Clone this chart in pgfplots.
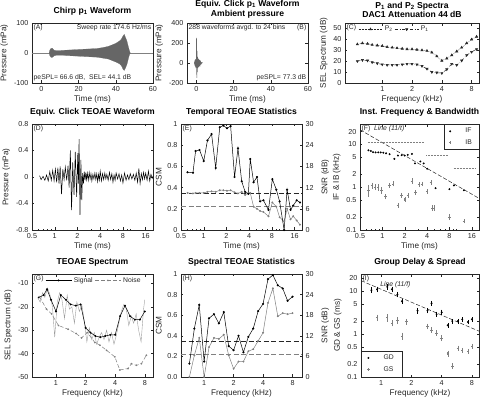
\documentclass[border=0pt]{standalone}
\usepackage{fontspec}
\setmainfont{Liberation Sans}
\usepackage{pgfplots}
\pgfplotsset{compat=1.18}
\usetikzlibrary{plotmarks}
\definecolor{ax}{gray}{0.15}
\definecolor{gr}{gray}{0.5}
\definecolor{lg}{gray}{0.62}
\definecolor{dk}{gray}{0.4}
\newcommand{\tf}{\fontsize{7.2}{8.4}\selectfont}
\newcommand{\smf}{\fontsize{6.8}{8}\selectfont}
\tikzset{tag/.style={anchor=north west, font=\smf, text=ax, inner sep=1.5pt}}
\pgfplotsset{
  myax/.style={scale only axis, anchor=south west,
    axis line style={ax, line width=0.4pt},
    every tick/.style={ax, line width=0.4pt},
    major tick length=2.5pt, minor tick length=1.4pt,
    tick label style={font=\tf, text=ax},
    label style={font=\fontsize{8.2}{9.5}\selectfont, text=ax},
    title style={font=\fontsize{8.6}{9.6}\selectfont\bfseries, align=center, yshift=-1.5pt},
    /pgf/number format/assume math mode=true,
    xlabel style={yshift=3pt}, ylabel style={yshift=-1pt},
    legend style={font=\smf, text=ax},
    every axis plot/.append style={line width=0.5pt}},
}
\begin{document}
\begin{tikzpicture}[font=\tf]
\useasboundingbox (0pt,0pt) rectangle (480pt,402pt);

% ---------------- (A)
\begin{axis}[myax, at={(32pt,319pt)}, width=121pt, height=60pt,
  xmin=-5, xmax=60, ymin=-100, ymax=100, xtick={0,20,40,60}, ytick={-100,0,100},
  xlabel={Time (ms)}, ylabel={Pressure (mPa)}, title={Chirp p\textsubscript{1} Waveform}]
\addplot[gr, line width=0.4pt] coordinates {(-5,0)(60,0)};
\addplot[fill=dk, draw=dk, line width=0.2pt] coordinates {
(4.2,0)(4.6,10)(5.2,15)(5.8,16)(6.4,12)(7,9)(8,8)(10,8)(12,9)(15,10)(18,11)(21,12)(24,13)(27,14)(30,15)(33,18)(36,22)(38,27)(40,32)(42,40)(43,46)(44,58)(44.6,62)(45.2,52)(46,40)(46.8,20)(47.4,6)(47.8,0)
(47.4,-5)(46.8,-18)(46,-38)(45.2,-50)(44.6,-58)(44,-55)(43,-42)(42,-36)(40,-30)(38,-25)(36,-20)(33,-17)(30,-14)(27,-13)(24,-12)(21,-11)(18,-10)(15,-9)(12,-8)(10,-8)(8,-8)(7,-9)(6.4,-12)(5.8,-15)(5.2,-14)(4.6,-9)} -- cycle;
\node[tag] at (rel axis cs:0,1) {(A)};
\node[tag, anchor=north east] at (rel axis cs:1,1) {Sweep rate 174.6 Hz/ms};
\node[tag, anchor=south west] at (rel axis cs:0,0) {peSPL= 66.6 dB,\ \ SEL= 44.1 dB};
\end{axis}

% ---------------- (B)
\begin{axis}[myax, at={(187pt,319pt)}, width=121pt, height=60pt,
  xmin=-5, xmax=60, ymin=-200, ymax=400, xtick={0,20,40,60}, ytick={-200,0,200,400},
  xlabel={Time (ms)}, ylabel={Pressure (mPa)},
  title style={yshift=-3pt},
  title={Equiv. Click p\textsubscript{1} Waveform\\Ambient pressure}]
\addplot[dk, line width=0.5pt] coordinates {(-0.8,0)(-0.4,20)(-0.2,-40)(0,-30)(0.1,250)(0.25,-150)(0.4,120)(0.55,-90)(0.7,60)(0.85,-50)(1.0,45)(1.2,-40)(1.4,35)(1.6,-30)(1.8,25)(2.0,-20)(2.3,15)(2.6,-10)(3,5)(3.5,0)};
\addplot[fill=dk, draw=none] coordinates {(-1.2,0)(-0.8,30)(0,45)(1,40)(2,25)(2.8,0)(2,-25)(1,-40)(0,-45)(-0.8,-30)} -- cycle;
\node[tag] at (rel axis cs:0,1) {288 waveforms avgd. to 24 bins};
\node[tag, anchor=north east] at (rel axis cs:1,1) {(B)};
\node[tag, anchor=south east] at (rel axis cs:1,0) {peSPL= 77.3 dB};
\end{axis}

% ---------------- (C)
\begin{axis}[myax, at={(345pt,319pt)}, width=134pt, height=60pt,
  xmode=log, xtick={1,2,4,8}, xticklabels={1,2,4,8}, xlabel={Frequency (kHz)},
  xmin=0.42, xmax=9.5, ymin=0, ymax=55, ytick={0,10,20,30,40,50},
  ylabel={SEL Spectrum (dB)},
  title style={yshift=-3pt},
  title={P\textsubscript{1} and P\textsubscript{2} Spectra\\DAC1 Attenuation 44 dB},
  legend columns=-1,
  legend style={draw=none, fill=none, at={(0.09,1)}, anchor=north west, inner sep=1pt},
  legend image code/.code={\draw[mark repeat=2,mark phase=2,#1] plot coordinates {(0pt,0pt)(12pt,0pt)(24pt,0pt)};}]
\addplot[ax, densely dotted, mark=triangle*, mark size=1.3pt, mark options={solid}] coordinates {
(0.56,35.5)(0.63,36.5)(0.71,36)(0.79,35)(0.89,34.5)(1.0,34)(1.12,33)(1.26,32.5)(1.41,32)(1.59,31.5)(1.78,31)(2.0,31)(2.24,30.5)(2.52,30)(2.83,29.5)(3.17,28)(3.56,24.5)(4.0,20.5)(4.49,22.5)(5.04,25.5)(5.66,29)(6.35,32.5)(7.13,36.5)(8.0,40)(8.98,42.5)};
\addlegendentry{P\textsubscript{2}}
\addplot[ax, dash dot, mark=triangle*, mark size=1.3pt, mark options={solid, rotate=180}] coordinates {
(0.56,20)(0.63,21)(0.71,20.5)(0.79,19)(0.89,18)(1.0,17)(1.12,16.5)(1.26,16.5)(1.41,16.5)(1.59,17)(1.78,17.5)(2.0,17.5)(2.24,17)(2.52,15.5)(2.83,13)(3.17,10)(3.56,9.5)(4.0,9)(4.49,12.5)(5.04,17.5)(5.66,16.5)(6.35,20.5)(7.13,25.5)(8.0,28.5)(8.98,31)};
\addlegendentry{P\textsubscript{1}}
\node[tag] at (rel axis cs:0,1) {(C)};
\end{axis}

% ---------------- (D)
\begin{axis}[myax, at={(32pt,172pt)}, width=121pt, height=106pt,
  xmode=log, xmin=0.5, xmax=20,
  xtick={0.5,1,2,4,8,16}, xticklabels={0.5,1,2,4,8,16},
  minor xtick={0.6,0.7,0.8,0.9,3,5,6,7,9,10,20}, xlabel={Time (ms)},
  ymin=-0.8, ymax=0.8, ytick={-0.8,-0.4,0,0.4,0.8}, yticklabels={-0.8,-0.4,0,0.4,0.8},
  ylabel={Pressure (mPa)}, title={Equiv. Click TEOAE Waveform}]
\addplot[black] coordinates {
(0.63,0.02)(0.66,-0.04)(0.70,0.01)(0.74,-0.05)(0.78,0.03)(0.82,-0.06)(0.86,0.08)(0.90,-0.05)(0.94,0.10)(0.98,-0.06)(1.02,0.12)(1.06,-0.08)(1.10,0.14)(1.14,-0.1)(1.18,0.16)(1.23,-0.26)(1.28,0.12)(1.33,-0.04)(1.38,0.15)(1.44,-0.05)(1.50,0.17)(1.55,-0.16)(1.61,0.40)(1.67,-0.50)(1.73,0.22)(1.80,-0.27)(1.87,0.38)(1.95,-0.30)(2.02,0.36)(2.06,-0.1)(2.10,0.57)(2.16,-0.57)(2.22,0.26)(2.28,-0.35)(2.34,0.06)(2.40,-0.10)(2.46,0.08)(2.52,-0.05)(2.58,0.07)(2.64,-0.04)(2.70,0.06)(2.78,-0.05)(2.86,0.07)(2.94,-0.03)(3.02,0.05)(3.10,-0.06)(3.2,0.04)(3.3,-0.03)(3.4,0.06)(3.5,-0.04)(3.6,0.05)(3.7,-0.07)(3.8,0.04)(3.9,-0.05)(4.0,0.09)(4.15,-0.06)(4.3,0.05)(4.45,-0.04)(4.6,0.06)(4.75,-0.03)(4.9,0.04)(5.1,-0.05)(5.3,0.07)(5.5,-0.04)(5.7,0.05)(5.9,-0.08)(6.1,0.03)(6.3,-0.05)(6.5,0.06)(6.8,-0.03)(7.1,0.05)(7.4,-0.06)(7.7,0.03)(8.0,-0.09)(8.4,0.06)(8.8,-0.05)(9.2,0.03)(9.6,-0.04)(10.0,0.05)(10.5,-0.03)(11.0,0.04)(11.5,-0.05)(12.0,0.06)(12.5,-0.08)(13.0,0.13)(13.5,-0.10)(14.0,0.05)(14.5,-0.04)(15.0,0.07)(15.5,-0.03)(16.0,0.06)(16.7,-0.05)(17.4,0.09)(18.1,-0.06)(18.8,0.04)(19.5,-0.02)(20,0.01)};
\node[tag] at (rel axis cs:0,1) {(D)};
\end{axis}

% ---------------- (E)
\begin{axis}[myax, at={(181pt,172pt)}, width=121pt, height=106pt,
  xmode=log, xmin=0.5, xmax=20,
  xtick={0.5,1,2,4,8,16}, xticklabels={0.5,1,2,4,8,16},
  minor xtick={0.6,0.7,0.8,0.9,3,5,6,7,9,10,20}, xlabel={Time (ms)},
  ymin=0, ymax=1, ytick={0,0.2,0.4,0.6,0.8,1}, yticklabels={0,0.2,0.4,0.6,0.8,1},
  ytick pos=left, ylabel={CSM}, title={Temporal TEOAE Statistics}]
\addplot[ax, dash pattern=on 5pt off 2.5pt] coordinates {(0.5,0.35)(20,0.35)};
\addplot[gr, dash pattern=on 5pt off 2.5pt] coordinates {(0.5,0.22)(20,0.22)};
\addplot[gr, mark=*, mark size=0.7pt] coordinates {
(0.61,0.35)(0.72,0.345)(0.78,0.35)(0.88,0.35)(1.0,0.35)(1.12,0.36)(1.27,0.365)(1.44,0.36)(1.63,0.375)(1.82,0.375)(2.03,0.37)(2.27,0.375)(2.56,0.355)(2.84,0.345)(3.18,0.36)(3.53,0.33)(3.9,0.35)(4.13,0.35)(4.57,0.22)(5.07,0.2)(5.57,0.18)(6.17,0.17)(7.2,0.13)(8.1,0.26)(9.15,0.22)(10.1,0.12)(11.6,0.08)(12.7,0.2)(14.1,0.1)(15.3,0.13)(17.0,0.09)(18.8,0.05)};
\addplot[black, mark=*, mark size=0.8pt] coordinates {
(0.61,0.545)(0.72,0.54)(0.78,0.745)(0.88,0.755)(1.0,0.65)(1.12,0.845)(1.27,0.905)(1.44,0.585)(1.63,0.97)(1.82,0.985)(2.03,0.96)(2.27,0.98)(2.56,0.5)(2.84,0.77)(3.18,0.46)(3.53,0.36)(3.9,0.34)(4.13,0.67)(4.57,0.45)(5.07,0.5)(5.57,0.27)(6.17,0.28)(7.2,0.19)(8.1,0.48)(9.15,0.38)(10.1,0.27)(11.6,0.0)(12.7,0.38)(14.1,0.19)(15.3,0.23)(17.0,0.28)(18.8,0.26)};
\node[tag] at (rel axis cs:0,1) {(E)};
\end{axis}
\begin{axis}[myax, at={(181pt,172pt)}, width=121pt, height=106pt,
  xmode=log, xmin=0.5, xmax=20, ymin=0, ymax=30, axis x line=none, axis y line*=right,
  ytick={0,6,12,18,24,30}, ylabel={SNR (dB)}]
\addplot[draw=none] coordinates {(1,0)};
\end{axis}

% ---------------- (F)
\begin{axis}[myax, at={(360pt,172pt)}, width=119pt, height=106pt,
  xmode=log, xmin=0.5, xmax=20,
  xtick={0.5,1,2,4,8,16}, xticklabels={0.5,1,2,4,8,16},
  minor xtick={0.6,0.7,0.8,0.9,3,5,6,7,9,10,20}, xlabel={Time (ms)},
  ymode=log, ymin=0.1, ymax=30, ytick={0.1,0.2,0.5,1,2,5,10,20}, yticklabels={0.1,0.2,0.5,1,2,5,10,20},
  ylabel={IF \& IB (kHz)}, title={Inst. Frequency \& Bandwidth},
  legend style={at={(1,1)}, anchor=north east, draw=ax, line width=0.4pt, inner xsep=5pt, inner ysep=2pt,
    /tikz/every odd column/.append style={column sep=12pt}, row sep=1pt},
  legend cell align=left]
\addplot[ax, dash pattern=on 4pt off 2pt, forget plot] coordinates {(0.5,22)(20,0.55)};
\addplot[gr, densely dotted, forget plot] coordinates {(0.64,11)(3.7,11)};
\addplot[gr, densely dotted, forget plot] coordinates {(3.9,5.5)(7.5,5.5)};
\addplot[gr, densely dotted, forget plot] coordinates {(9.1,2.75)(17.5,2.75)};
\addplot[black, only marks, mark=*, mark size=0.7pt] coordinates {
(0.65,7.3)(0.70,7.0)(0.75,6.6)(0.81,6.5)(0.88,6.5)(0.95,6.5)(1.03,6.4)(1.12,6.2)(1.25,5.9)(1.45,4.6)(1.62,5.5)(1.82,5.6)(2.0,5.5)(2.2,5.7)(2.5,6.0)(2.75,3.6)(3.25,4.0)(3.6,3.6)(4.0,2.7)(5.2,0.95)(8.0,0.9)(9.2,1.1)(12.5,0.85)};
\addlegendentry{IF}
\addplot[gr, only marks, mark=+, mark size=1.2pt,
  error bars/.cd, y dir=both, y explicit, error bar style={gr, line width=0.4pt}, error mark options={gr, mark size=1pt, line width=0.4pt}] coordinates {
(0.65,0.85) +- (0,0.22) (0.72,1.1) +- (0,0.12) (0.80,1.0) +- (0,0.1) (0.88,1.0) +- (0,0.12) (0.97,0.85) +- (0,0.1) (1.1,0.6) +- (0,0.05) (1.25,1.1) +- (0,0.08) (1.4,1.2) +- (0,0.1) (1.62,0.38) +- (0,0.03) (1.82,0.65) +- (0,0.05) (2.0,0.52) +- (0,0.04) (2.2,0.65) +- (0,0.05) (2.5,1.4) +- (0,0.12) (2.8,0.75) +- (0,0.06) (3.1,1.15) +- (0,0.08) (3.4,1.2) +- (0,0.08) (4.0,0.8) +- (0,0.06) (4.5,1.3) +- (0,0.08) (4.7,0.33) +- (0,0.03) (5.0,0.33) +- (0,0.03) (8.0,0.2) +- (0,0.02) (12.5,0.16) +- (0,0.01)};
\addlegendentry{IB}
\node[tag] at (rel axis cs:0,1) {(F)\ \ \textit{Line (11/t)}};
\end{axis}

% ---------------- (G)
\begin{axis}[myax, at={(32pt,25pt)}, width=121pt, height=103pt,
  xmode=log, xtick={1,2,4,8}, xticklabels={1,2,4,8}, xlabel={Frequency (kHz)},
  xmin=0.57, xmax=9.7, ymin=-50, ymax=-6, ytick={-50,-40,-30,-20,-10},
  ylabel={SEL Spectrum (dB)}, title={TEOAE Spectrum},
  legend columns=-1,
  legend style={draw=none, fill=none, at={(0.1,1)}, anchor=north west, inner sep=1pt},
  legend image code/.code={\draw[mark repeat=2,mark phase=2,#1] plot coordinates {(0pt,0pt)(13pt,0pt)(26pt,0pt)};}]
\addplot[lg, line width=0.4pt, forget plot] coordinates {
(0.65,-16)(0.69,-18)(0.73,-14)(0.77,-16)(0.82,-12)(0.87,-15)(0.92,-20)(0.97,-33)(1.03,-18)(1.09,-14)(1.15,-17)(1.22,-25)(1.30,-15)(1.37,-21)(1.45,-20)(1.54,-27)(1.63,-18)(1.73,-22)(1.83,-19)(1.94,-26)(2.06,-35)(2.18,-29)(2.31,-34)(2.45,-31)(2.59,-36)(2.75,-33)(2.91,-31)(3.08,-34)(3.27,-30)(3.46,-35)(3.67,-31)(3.89,-36)(4.12,-32)(4.36,-27)(4.62,-22)(4.9,-19)(5.19,-21)(5.5,-28)(5.83,-24)(6.17,-27)(6.54,-23)(6.93,-30)(7.34,-35)(7.78,-21)(8.0,-17)};
\addplot[black, mark=*, mark size=0.7pt] coordinates {
(0.67,-16)(0.75,-15)(0.81,-12.5)(0.89,-17)(1.0,-22)(1.12,-15)(1.26,-17)(1.41,-19)(1.59,-19.5)(1.78,-19)(2.0,-29)(2.24,-31)(2.52,-32.5)(2.83,-33)(3.17,-32.5)(3.56,-32)(4.0,-32)(4.49,-24)(5.04,-19.5)(5.66,-24)(6.35,-25.5)(7.13,-25.5)(8.0,-22)};
\addlegendentry{Signal}
\addplot[gr, dash pattern=on 4pt off 2pt, mark=*, mark size=0.6pt, mark options={solid}] coordinates {
(0.68,-15.7)(0.8,-21)(0.9,-23)(1.06,-28)(1.33,-29.6)(1.6,-31.4)(1.82,-33.3)(2.08,-31)(2.49,-35.3)(2.8,-36.4)(3.27,-38.6)(3.97,-41.4)(4.46,-47)(5.4,-46.4)(5.85,-44.3)(6.58,-45)(7.4,-44.3)(8.3,-40.7)};
\addlegendentry{Noise}
\node[tag] at (rel axis cs:0,1) {(G)};
\end{axis}

% ---------------- (H)
\begin{axis}[myax, at={(181pt,25pt)}, width=121pt, height=103pt,
  xmode=log, xtick={1,2,4,8}, xticklabels={1,2,4,8}, xlabel={Frequency (kHz)},
  xmin=0.58, xmax=10, ymin=0, ymax=1, ytick={0,0.2,0.4,0.6,0.8,1}, yticklabels={0.0,0.2,0.4,0.6,0.8,1},
  ytick pos=left, ylabel={CSM}, title={Spectral TEOAE Statistics}]
\addplot[ax, dash pattern=on 5pt off 2.5pt] coordinates {(0.58,0.35)(10,0.35)};
\addplot[gr, dash pattern=on 5pt off 2.5pt] coordinates {(0.58,0.22)(10,0.22)};
\addplot[gr, mark=*, mark size=0.7pt] coordinates {
(0.707,0.0)(0.794,0.21)(0.891,0.38)(1.0,0.0)(1.122,0.29)(1.26,0.38)(1.414,0.37)(1.587,0.41)(1.782,0.21)(2.0,0.08)(2.245,0.15)(2.52,0.15)(2.828,0.25)(3.175,0.27)(3.564,0.35)(4.0,0.43)(4.49,0.72)(5.04,0.86)(5.657,0.59)(6.35,0.62)(7.127,0.61)(8.0,0.62)};
\addplot[black, mark=*, mark size=0.8pt] coordinates {
(0.707,0.13)(0.794,0.47)(0.891,0.7)(1.0,0.15)(1.122,0.57)(1.26,0.61)(1.414,0.52)(1.587,0.63)(1.782,0.3)(2.0,0.26)(2.245,0.4)(2.52,0.24)(2.828,0.39)(3.175,0.47)(3.564,0.64)(4.0,0.71)(4.49,0.95)(5.04,0.99)(5.657,0.89)(6.35,0.86)(7.127,0.74)(8.0,0.78)};
\node[tag] at (rel axis cs:0,1) {(H)};
\end{axis}
\begin{axis}[myax, at={(181pt,25pt)}, width=121pt, height=103pt,
  xmode=log, xmin=0.58, xmax=10, ymin=0, ymax=30, axis x line=none, axis y line*=right,
  ytick={0,6,12,18,24,30}, ylabel={SNR (dB)}]
\addplot[draw=none] coordinates {(1,0)};
\end{axis}

% ---------------- (I)
\begin{axis}[myax, at={(361pt,25pt)}, width=118pt, height=103pt,
  xmode=log, xtick={1,2,4,8}, xticklabels={1,2,4,8}, xlabel={Frequency (kHz)},
  xmin=0.63, xmax=9.4, ymode=log, ymin=0.1, ymax=25,
  ytick={0.1,0.2,0.5,1,2,5,10,20}, yticklabels={0.1,0.2,0.5,1,2,5,10,20},
  ylabel={GD \& GS (ms)}, title={Group Delay \& Spread},
  legend style={at={(0,0)}, anchor=south west, draw=ax, line width=0.4pt, inner xsep=6pt, inner ysep=2pt,
    /tikz/every odd column/.append style={column sep=12pt}, row sep=1.5pt},
  legend cell align=left]
\addplot[ax, dash pattern=on 4pt off 2pt, forget plot] coordinates {(0.63,17.5)(9.4,1.17)};
\addplot[black, only marks, mark=*, mark size=0.7pt,
  error bars/.cd, y dir=both, y explicit, error bar style={black, line width=0.4pt}, error mark options={black, mark size=1pt, line width=0.4pt}] coordinates {
(0.80,10.5) +- (0,1) (0.91,11) +- (0,1) (1.15,12.5) +- (0,1.2) (1.28,11) +- (0,1) (1.45,8.3) +- (0,0.8) (1.61,5.8) +- (0,0.5) (2.3,3.5) +- (0,0.35) (2.89,3.5) +- (0,0.3) (3.17,5.2) +- (0,0.4) (3.56,2.9) +- (0,0.25) (4.0,3.2) +- (0,0.3) (4.59,1.6) +- (0,0.12) (5.1,2.0) +- (0,0.15) (5.8,2.0) +- (0,0.15) (6.4,2.2) +- (0,0.15) (7.3,1.9) +- (0,0.12) (8.0,2.2) +- (0,0.15)};
\addlegendentry{GD}
\addplot[gr, only marks, mark=+, mark size=1.2pt,
  error bars/.cd, y dir=both, y explicit, error bar style={gr, line width=0.4pt}, error mark options={gr, mark size=1pt, line width=0.4pt}] coordinates {
(0.91,2.4) +- (0,0.3) (1.15,2.4) +- (0,0.35) (1.28,1.8) +- (0,0.2) (1.45,2.1) +- (0,0.25) (1.61,0.9) +- (0,0.12) (1.78,1.95) +- (0,0.2) (2.89,1.5) +- (0,0.15) (3.17,1.25) +- (0,0.12) (3.56,1.07) +- (0,0.1) (4.0,0.8) +- (0,0.08) (4.59,0.35) +- (0,0.04) (5.1,0.18) +- (0,0.02) (5.8,0.47) +- (0,0.04) (6.4,0.42) +- (0,0.03) (7.3,0.40) +- (0,0.03) (8.0,0.52) +- (0,0.04)};
\addlegendentry{GS}
\node[tag] at (rel axis cs:0,1) {(I)};
\node[tag, font=\smf\itshape] at (rel axis cs:0.15,0.94) {Line (11/f)};
\end{axis}
\end{tikzpicture}
\end{document}
